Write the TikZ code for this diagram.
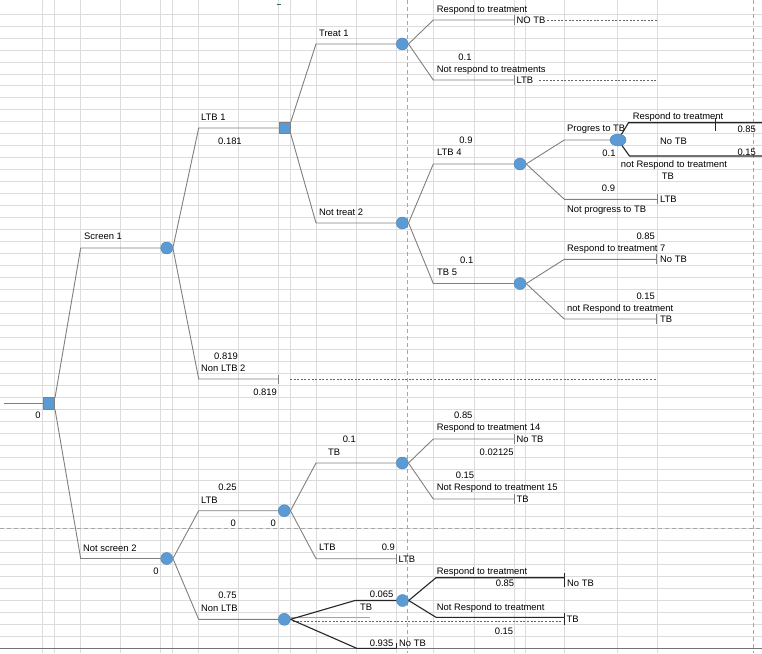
\documentclass[tikz,border=0pt]{standalone}
\usepackage{fontspec}
\setmainfont{Liberation Sans}
\usetikzlibrary{shapes.geometric}
\definecolor{nodeblue}{HTML}{5B9BD5}
\definecolor{gridc}{HTML}{DCDCDC}
\definecolor{linegray}{HTML}{808080}
\definecolor{pbreak}{HTML}{A6A6A6}
\definecolor{selblue}{HTML}{7FAEDC}
\definecolor{markc}{HTML}{2E6B5E}
\newcommand\lblfont{\fontsize{9.4}{11}\selectfont}
\tikzset{
  chance/.style={circle, fill=nodeblue, draw=nodeblue!85!black, line width=0.4pt, minimum size=12pt, inner sep=0pt},
  chanceov/.style={ellipse, fill=nodeblue, draw=nodeblue!85!black, line width=0.4pt, minimum width=16pt, minimum height=12pt, inner sep=0pt},
  decision/.style={rectangle, fill=nodeblue, draw=linegray, line width=0.6pt, minimum size=11.5pt, inner sep=0pt},
  br/.style={draw=linegray, line width=0.9pt},
  brk/.style={draw=black!85, line width=1.1pt},
  lbl/.style={font=\lblfont, inner sep=0pt, text height=6.8pt, text depth=0pt},
  lw/.style={lbl, anchor=west},
  le/.style={lbl, anchor=east},
  lc/.style={lbl, anchor=center},
  dotln/.style={draw=black!60, line width=0.6pt, dash pattern=on 2pt off 1.6pt},
  pbr/.style={draw=pbreak, line width=0.8pt, dash pattern=on 4pt off 3pt},
  gridln/.style={draw=gridc, line width=0.7pt}
}
\begin{document}
\begin{tikzpicture}[x=1pt,y=-1pt]
\useasboundingbox (0,0) rectangle (762,653);
\fill[white] (0,0) rectangle (762,653);
% spreadsheet grid
\foreach \k in {0,...,52} \draw[gridln] (0,{14+11.97*\k}) -- (762,{14+11.97*\k});
\foreach \x in {42.7,54.3,80.7,120.7,160.7,172.3,198.7,238.7,278.7,290.7,316,356,396,433.3,474,514,525.7,564.3,617.7,657.7}
  \draw[gridln] (\x,0) -- (\x,653);
% page breaks
\draw[pbr] (407.3,0) -- (407.3,653);
\draw[pbr] (753.3,0) -- (753.3,653);
\draw[pbr] (0,528.7) -- (762,528.7);
\draw[black!55, line width=1.4pt] (0,648.5) -- (762,648.5);
\draw[markc, line width=1pt] (276.5,4.5) -- (281,4.5);
% selection marks
\draw[selblue, line width=1pt] (285,617.3) -- (370,617.3);
\draw[dotln] (293,621) -- (563,621);
\draw[dotln] (290,379) -- (657,379);
\draw[dotln] (547,20) -- (657,20);
\draw[dotln] (539,80) -- (657,80);

% nodes
\node[decision] (root) at (49,403.5) {};
\node[chance] (scr) at (166.7,248) {};
\node[chance] (nscr) at (166.7,558.5) {};
\node[decision] (ltb1) at (284.7,128) {};
\node[chance] (tr1) at (402.3,44) {};
\node[chance] (nt2) at (402.3,223) {};
\node[chance] (ltb4) at (520,164) {};
\node[chance] (tb5) at (520,283.5) {};
\node[chanceov] (prog) at (618,140) {};
\node[chance] (ltbB) at (284.3,510.7) {};
\node[chance] (nltb) at (284.3,619.3) {};
\node[chance] (tbB) at (402.3,463) {};
\node[chance] (tb2) at (402.5,600.5) {};

% corner and end coordinates
\coordinate (start) at (4,403.5);
\coordinate (s1a) at (80.7,248);
\coordinate (ns) at (80.7,558.5);
\coordinate (ltb1c) at (198.7,128);
\coordinate (nl2c) at (198.7,379);
\coordinate (nl2t) at (278.7,379);
\coordinate (t1c) at (316,44);
\coordinate (nt2c) at (316,223);
\coordinate (r1c) at (433.3,20);
\coordinate (r1t) at (514,20);
\coordinate (nr1c) at (433.3,80);
\coordinate (nr1t) at (514,80);
\coordinate (l4c) at (433.3,164);
\coordinate (tb5c) at (433.3,283.5);
\coordinate (pgc) at (564.3,140);
\coordinate (nptc) at (564.3,199.3);
\coordinate (nptt) at (657.3,199.3);
\coordinate (rpc) at (628.5,122.7);
\coordinate (rpe) at (762,122.7);
\coordinate (rptk) at (715.7,122.7);
\coordinate (nrpc) at (629.5,156);
\coordinate (nrpe) at (762,156);
\coordinate (r7c) at (564.3,259.3);
\coordinate (r7t) at (656.7,259.3);
\coordinate (nr7c) at (564.3,319);
\coordinate (nr7t) at (656.7,319);
\coordinate (ltbc) at (198.7,510.7);
\coordinate (nlc) at (198.7,619.3);
\coordinate (tbc) at (316,463);
\coordinate (lbc) at (316,558.7);
\coordinate (lbt) at (396,558.7);
\coordinate (r14c) at (433.3,439);
\coordinate (r14t) at (514,439);
\coordinate (nr15c) at (433.3,499);
\coordinate (nr15t) at (514,499);
\coordinate (tb2c) at (355,600.5);
\coordinate (ntbc) at (356.7,648.3);
\coordinate (ntbt) at (396.7,648.3);
\coordinate (rtc) at (436,577.7);
\coordinate (rtt) at (564.3,577.7);
\coordinate (nrtc) at (436,617.3);
\coordinate (nrtt) at (564.3,617.3);

% connectors
\draw[br] (start) -- (root);
\draw[br] (root.north east) -- (s1a) -- (scr);
\draw[br] (root.south east) -- (ns) -- (nscr);
\draw[br] (scr.east) -- (ltb1c) -- (ltb1);
\draw[br] (scr.east) -- (nl2c) -- (nl2t);
\draw[br] ([yshift=4.5pt]nl2t) -- ([yshift=-4.5pt]nl2t);
\draw[br] (ltb1.north east) -- (t1c) -- (tr1);
\draw[br] (ltb1.south east) -- (nt2c) -- (nt2);
\draw[br] (tr1.east) -- (r1c) -- (r1t);
\draw[br] ([yshift=5pt]r1t) -- ([yshift=-5pt]r1t);
\draw[br] (tr1.east) -- (nr1c) -- (nr1t);
\draw[br] ([yshift=5pt]nr1t) -- ([yshift=-5pt]nr1t);
\draw[br] (nt2.east) -- (l4c) -- (ltb4);
\draw[br] (nt2.east) -- (tb5c) -- (tb5);
\draw[br] (ltb4.east) -- (pgc) -- (prog);
\draw[br] (ltb4.east) -- (nptc) -- (nptt);
\draw[br] ([yshift=5pt]nptt) -- ([yshift=-5pt]nptt);
\draw[brk] (prog) -- (rpc) -- (rpe);
\draw[brk, line width=0.8pt] ([yshift=4.5pt]rptk) -- ([yshift=-8.5pt]rptk);
\draw[brk] (prog) -- (nrpc) -- (nrpe);
\draw[br] (tb5.east) -- (r7c) -- (r7t);
\draw[br] ([yshift=5pt]r7t) -- ([yshift=-5pt]r7t);
\draw[br] (tb5.east) -- (nr7c) -- (nr7t);
\draw[br] ([yshift=5pt]nr7t) -- ([yshift=-5pt]nr7t);
\draw[br] (nscr.east) -- (ltbc) -- (ltbB);
\draw[br] (nscr.east) -- (nlc) -- (nltb);
\draw[br] (ltbB.east) -- (tbc) -- (tbB);
\draw[br] (ltbB.east) -- (lbc) -- (lbt);
\draw[br] ([yshift=5pt]lbt) -- ([yshift=-5pt]lbt);
\draw[br] (tbB.east) -- (r14c) -- (r14t);
\draw[br] ([yshift=5pt]r14t) -- ([yshift=-5pt]r14t);
\draw[br] (tbB.east) -- (nr15c) -- (nr15t);
\draw[br] ([yshift=5pt]nr15t) -- ([yshift=-5pt]nr15t);
\draw[brk] (nltb.east) -- (tb2c) -- (tb2);
\draw[brk] (nltb.east) -- (ntbc) -- (ntbt);
\draw[brk, line width=0.8pt] (ntbt) -- ([yshift=5pt]ntbt);
\draw[brk] (tb2.east) -- (rtc) -- (rtt);
\draw[brk, line width=0.9pt] ([yshift=4.5pt]rtt) -- ([yshift=-9.5pt]rtt);
\draw[brk] (tb2.east) -- (nrtc) -- (nrtt);
\draw[brk, line width=0.9pt] ([yshift=4.5pt]nrtt) -- ([yshift=-8pt]nrtt);

% labels
\node[lc] (v0) at (38,415) {0};
\node[lw] (lS1) at (84,236) {Screen 1};
\node[lw] (lNS) at (83,547.7) {Not screen 2};
\node[lc] (vNS) at (156,571) {0};
\node[lw] (lLTB1) at (201,116.7) {LTB 1};
\node[lw] (vLTB1) at (218,140.7) {0.181};
\node[lc] (pNL2) at (226,355.7) {0.819};
\node[lw] (lNL2) at (201,367.7) {Non LTB 2};
\node[le] (vNL2) at (277,391.7) {0.819};
\node[lw] (lT1) at (319,32.7) {Treat 1};
\node[lw] (lNT2) at (319,212.3) {Not treat 2};
\node[lw] (lR1) at (436.7,9) {Respond to treatment};
\node[lw] (eR1) at (516.5,20) {NO TB};
\node[lc] (pNR1) at (465,56.7) {0.1};
\node[lw] (lNR1) at (436.7,69) {Not respond to treatments};
\node[lw] (eNR1) at (516.5,80) {LTB};
\node[lc] (pL4) at (466,140) {0.9};
\node[lw] (lL4) at (437,151.7) {LTB 4};
\node[lc] (pTB5) at (466.7,260) {0.1};
\node[lw] (lTB5) at (437,272.3) {TB 5};
\node[lw] (lPG) at (567,128.3) {Progres to TB};
\node[lw] (lRP) at (632.7,116) {Respond to treatment};
\node[le] (pRP) at (756,129) {0.85};
\node[lw] (eRP) at (660,140.7) {No TB};
\node[le] (pNRP) at (756,151.7) {0.15};
\node[lc] (vPG) at (609,152.7) {0.1};
\node[lw] (lNRP) at (620.7,164) {not Respond to treatment};
\node[lw] (eNRP) at (661.7,176) {TB};
\node[lc] (pNPT) at (608.5,188.3) {0.9};
\node[lw] (eNPT) at (660,199.3) {LTB};
\node[lw] (lNPT) at (567,209.3) {Not progress to TB};
\node[le] (pR7) at (655,235.7) {0.85};
\node[lw] (lR7) at (567,248) {Respond to treatment 7};
\node[lw] (eR7) at (660,259.3) {No TB};
\node[le] (pNR7) at (655,296) {0.15};
\node[lw] (lNR7) at (567,308.3) {not Respond to treatment};
\node[lw] (eNR7) at (660,319) {TB};
\node[lc] (pR14) at (463.3,415) {0.85};
\node[lw] (lR14) at (436.7,427.3) {Respond to treatment 14};
\node[lw] (eR14) at (516.5,439) {No TB};
\node[lc] (vR14) at (496.7,451.7) {0.02125};
\node[lc] (pNR15) at (465,475) {0.15};
\node[lw] (lNR15) at (436.7,487.3) {Not Respond to treatment 15};
\node[lw] (eNR15) at (516.5,499) {TB};
\node[lc] (pTB) at (349.3,439.3) {0.1};
\node[lw] (lTB) at (328,452) {TB};
\node[lc] (pLTBB) at (227.5,487.3) {0.25};
\node[lw] (lLTBB) at (201,500.3) {LTB};
\node[lc] (vLTBB) at (233.3,523.3) {0};
\node[lc] (vLTBB2) at (273.3,523.3) {0};
\node[lw] (lLB) at (319,546.7) {LTB};
\node[lc] (pLB) at (388.3,547.3) {0.9};
\node[lw] (eLB) at (398.5,558.7) {LTB};
\node[lc] (pNL) at (227.5,594.7) {0.75};
\node[lw] (lNL) at (201,607.7) {Non LTB};
\node[le] (pTB2) at (393.5,594.3) {0.065};
\node[lw] (lTB2) at (360,606.7) {TB};
\node[le] (pNTB) at (393.5,643.3) {0.935};
\node[lw] (eNTB) at (399,643.3) {No TB};
\node[lw] (lRT) at (436.7,571) {Respond to treatment};
\node[lc] (pRT) at (505,583.3) {0.85};
\node[lw] (eRT) at (567,583.3) {No TB};
\node[lw] (lNRT) at (436.7,607.3) {Not Respond to treatment};
\node[lw] (eNRT) at (566.5,619.3) {TB};
\node[lc] (pNRT) at (504,630.7) {0.15};
\end{tikzpicture}
\end{document}
